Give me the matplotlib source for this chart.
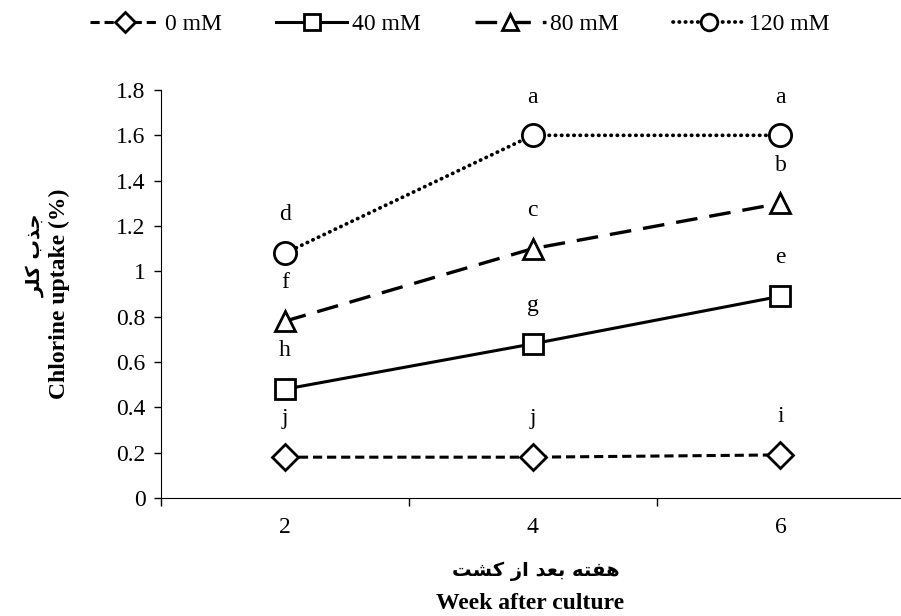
import matplotlib.pyplot as plt

weeks = ["2", "4", "6"]
series = ["0 mM", "40 mM", "80 mM", "120 mM"]
uptake = {
    "0 mM": [0.18, 0.18, 0.19],
    "40 mM": [0.48, 0.68, 0.89],
    "80 mM": [0.78, 1.10, 1.30],
    "120 mM": [1.08, 1.60, 1.60],
}
letters = {
    "0 mM": ["j", "j", "i"],
    "40 mM": ["h", "g", "e"],
    "80 mM": ["f", "c", "b"],
    "120 mM": ["d", "a", "a"],
}
yticks = [0, 0.2, 0.4, 0.6, 0.8, 1, 1.2, 1.4, 1.6, 1.8]
# Persian labels, shaped with presentation forms and laid out right to left
fa_x = "\uFE96\uFEB8\uFEDB \uFEAF\uFE8D \uFEAA\uFECC\uFE91 \uFEEA\uFE98\uFED4\uFEEB"
fa_y = "\uFEAE\uFEE0\uFEDB \uFE8F\uFEAC\uFE9F"

styles = {
    "0 mM": dict(marker="D", ls=(0, (3, 1.6)), ms=13, lw=2.2),
    "40 mM": dict(marker="s", ls="-", ms=15, lw=2.2),
    "80 mM": dict(marker="^", ls=(0, (6.5, 3.6)), ms=15, lw=2.4),
    "120 mM": dict(marker="o", ls=(0, (0.1, 1.55)), ms=16, lw=2.7,
                   dash_capstyle="round"),
}

plt.rcParams["font.family"] = ["Liberation Serif", "DejaVu Sans"]
fs = 17

fig = plt.figure(figsize=(9.01, 6.16), dpi=100)
ax = fig.add_axes([0.1787, 0.1916, 0.825, 0.6623])

x = list(range(len(weeks)))
for s in series:
    st = styles[s]
    ax.plot(x, uptake[s], color="black", markerfacecolor="white",
            markeredgecolor="black", markeredgewidth=2, label=s, **st)
    for xi, v, t in zip(x, uptake[s], letters[s]):
        ax.annotate(t, (xi, v), xytext=(0, 20), textcoords="offset points",
                    ha="center", va="bottom", fontsize=fs)

ax.set_xlim(-0.5, 2.5)
ax.set_ylim(0, 1.8)
ax.set_yticks(yticks)
ax.set_yticklabels([f"{v:g}" for v in yticks], fontsize=fs)
ax.set_xticks([-0.5, 0.5, 1.5, 2.5])
ax.set_xticklabels([])
ax.set_xticks(x, minor=True)
ax.set_xticklabels(weeks, minor=True, fontsize=fs)
ax.tick_params(axis="x", which="minor", length=0, pad=14)
ax.tick_params(axis="x", which="major", length=6, width=1, direction="out")
ax.tick_params(axis="y", length=5, width=1, direction="out", pad=6)
ax.spines["top"].set_visible(False)
ax.spines["right"].set_visible(False)

fig.text(0.066, 0.523, "Chlorine uptake (%)", rotation=90, ha="center",
         va="center", fontsize=fs, fontweight="bold")
fig.text(0.039, 0.585, fa_y, rotation=90, ha="center", va="center",
         fontsize=14, fontweight="bold", family="DejaVu Sans")
fig.text(0.588, 0.021, "Week after culture", ha="center", va="center",
         fontsize=fs, fontweight="bold")
fig.text(0.595, 0.073, fa_x, ha="center", va="center",
         fontsize=14, fontweight="bold", family="DejaVu Sans")

fig.legend(loc="upper center", bbox_to_anchor=(0.51, 1.013), ncol=4,
           frameon=False, fontsize=fs, handlelength=3.0, columnspacing=2.3,
           handletextpad=0.2, markerscale=0.75)

fig.savefig("out.png", dpi=100)
